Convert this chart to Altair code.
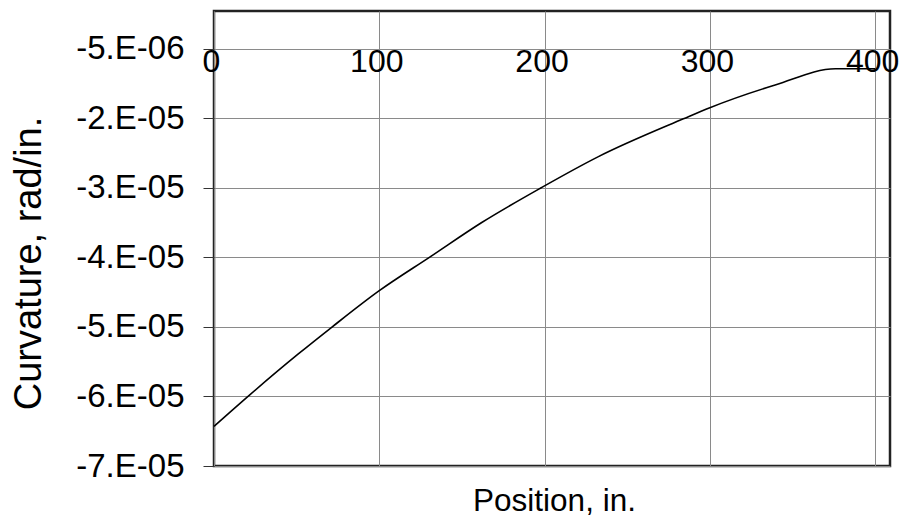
import altair as alt
import pandas as pd

# Curve (position in inches, curvature in rad/in.)
position = [0, 22, 51, 71, 100, 131, 162, 198, 232, 284, 300, 340, 376, 400]
curvature = [-6.43e-05, -5.97e-05, -5.39e-05, -5.01e-05, -4.48e-05, -3.99e-05,
             -3.50e-05, -3.00e-05, -2.56e-05, -2.01e-05, -1.85e-05, -1.52e-05,
             -1.29e-05, -1.29e-05]

x_ticks = [0, 100, 200, 300, 400]
y_ticks = [-7e-05, -6e-05, -5e-05, -4e-05, -3e-05, -2e-05, -1e-05]
y_tick_labels = ["-7.E-05", "-6.E-05", "-5.E-05", "-4.E-05", "-3.E-05", "-2.E-05", "-5.E-06"]

df = pd.DataFrame({"position": position, "curvature": curvature})

FONT = "Liberation Sans"
label_list = "[" + ",".join("'%s'" % s for s in y_tick_labels) + "]"
y_label_expr = label_list + "[round((datum.value + 7e-05) / 1e-05)]"

chart = (
    alt.Chart(df)
    .mark_line(color="black", strokeWidth=1.6, interpolate="monotone")
    .encode(
        x=alt.X(
            "position:Q",
            scale=alt.Scale(domain=[0, 409], nice=False, zero=False),
            axis=alt.Axis(
                values=x_ticks,
                orient="bottom",
                offset=-420,
                domain=False,
                ticks=False,
                labelPadding=0,
                labelOffset=-3,
                labelFont=FONT,
                labelFontSize=32,
                labelColor="black",
                labelBaseline="top",
                labelFlush=False,
                labelOverlap=False,
                grid=True,
                gridColor="#8a8a8a",
                gridWidth=1,
                title="Position, in.",
                titleFont=FONT,
                titleFontSize=31.5,
                titleFontWeight="normal",
                titleColor="black",
                titleX=340,
                titleY=464,
                titleAlign="center",
                titleBaseline="alphabetic",
            ),
        ),
        y=alt.Y(
            "curvature:Q",
            scale=alt.Scale(domain=[-7e-05, -4.6e-06], nice=False, zero=False),
            axis=alt.Axis(
                values=y_ticks,
                labelExpr=y_label_expr,
                domain=False,
                ticks=True,
                tickSize=11,
                tickColor="#333333",
                tickWidth=1,
                labelPadding=19,
                labelFont=FONT,
                labelFontSize=33,
                labelColor="black",
                labelBaseline="middle",
                labelOverlap=False,
                labelFlush=False,
                grid=True,
                gridColor="#8a8a8a",
                gridWidth=1,
                title="Curvature, rad/in.",
                titleFont=FONT,
                titleFontSize=38,
                titleFontWeight="normal",
                titleColor="black",
                titleAngle=270,
                titleX=-185,
                titleY=252,
                titleAlign="center",
                titleBaseline="middle",
            ),
        ),
    )
    .properties(
        width=676,
        height=455,
        autosize=alt.AutoSizeParams(type="none"),
        padding={"left": 206, "top": 3, "right": 9, "bottom": 52},
        background="white",
    )
    .configure_view(stroke="#222222", strokeWidth=2.5)
)

chart.save("out.html", embed_options={"renderer": "svg", "actions": False})
